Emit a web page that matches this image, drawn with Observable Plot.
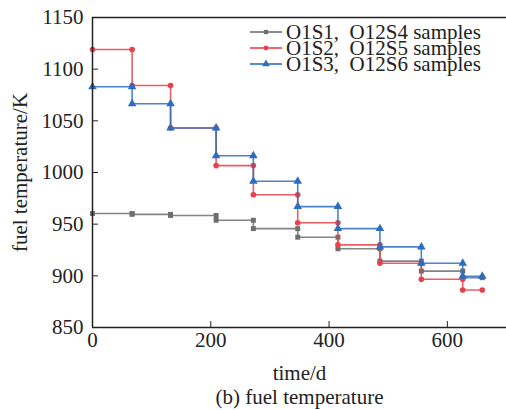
<!DOCTYPE html>
<html><head><meta charset="utf-8">
<script src="https://cdn.jsdelivr.net/npm/d3@7"></script>
<script src="https://cdn.jsdelivr.net/npm/@observablehq/plot@0.6"></script>
<style>
body{margin:0;background:#fff;}
#wrap{position:relative;width:506px;height:410px;}
#legend{position:absolute;left:0;top:0;}
</style></head><body><div id="wrap"></div>
<script>
// step boundaries (days)
const times = [0, 67, 132, 209, 272, 347, 415, 486, 556, 626, 659];
// fuel temperature (K) in each interval
const grayVals = [960.3, 959.5, 958.4, 953.8, 945.7, 937.4, 926.2, 914.2, 904.6, 898.2];
const redVals  = [1119, 1084.2, 1043, 1006.7, 978.4, 951.3, 930, 912.2, 896.7, 886.3];
const blueVals = [1083, 1066.5, 1043.1, 1016.2, 991.5, 967, 945.7, 928, 912.2, 899.6];
const seriesNames = ["O1S1,\u00a0\u00a0O12S4 samples", "O1S2,\u00a0\u00a0O12S5 samples", "O1S3,\u00a0\u00a0O12S6 samples"];
const seriesColors = ["#6e6e6e", "#e8414a", "#2d6dbf"];
const seriesSymbols = ["square", "circle", "triangle"];
const xTicks = [0, 200, 400, 600];
const yTicks = [850, 900, 950, 1000, 1050, 1100, 1150];

function stepRows(vals, name) {
  const rows = [];
  vals.forEach((v, k) => {
    rows.push({t: times[k], v, name});
    rows.push({t: times[k + 1], v, name});
  });
  return rows;
}
const allVals = [grayVals, redVals, blueVals];
const rowsBySeries = allVals.map((vals, i) => stepRows(vals, seriesNames[i]));

const font = "Liberation Serif";
const fs = 21;
const seriesMarks = rowsBySeries.flatMap((rows, i) => [
  Plot.line(rows, {x: "t", y: "v", stroke: seriesColors[i], strokeWidth: 1.6, strokeOpacity: 0.85}),
  Plot.dot(rows, {x: "t", y: "v", fill: seriesColors[i], symbol: seriesSymbols[i], r: i === 2 ? 3.2 : 2.8})
]);

const plot = Plot.plot({
  width: 506, height: 410,
  marginTop: 17, marginLeft: 92, marginRight: 0, marginBottom: 83,
  style: {fontFamily: font, fontSize: fs + "px", color: "#222", background: "#fff"},
  x: {domain: [0, 700]},
  y: {domain: [850, 1150]},
  marks: [
    ...seriesMarks,
    Plot.ruleY([1150], {stroke: "#222", strokeWidth: 1.5}),
    Plot.ruleY([850], {stroke: "#222", strokeWidth: 1.5}),
    Plot.ruleX([0], {stroke: "#222", strokeWidth: 1.5}),
    Plot.axisX({ticks: xTicks, tickSize: -6, tickPadding: 11, label: null, tickFormat: d => String(d), stroke: "#222", fontFamily: font, fontSize: fs}),
    Plot.axisY({ticks: yTicks, tickSize: -6, tickPadding: 15, label: null, tickFormat: d => String(d), stroke: "#222", fontFamily: font, fontSize: fs}),
    Plot.text(["time/d"], {frameAnchor: "bottom", dy: 46, textAnchor: "middle", lineAnchor: "middle", text: d => d, fontSize: fs, fontFamily: font, fill: "#222"}),
    Plot.text(["(b) fuel temperature"], {frameAnchor: "bottom", dy: 70, textAnchor: "middle", lineAnchor: "middle", text: d => d, fontSize: fs, fontFamily: font, fill: "#222"}),
    Plot.text(["fuel temperature/K"], {frameAnchor: "left", dx: -72, rotate: -90, textAnchor: "middle", lineAnchor: "middle", text: d => d, fontSize: fs, fontFamily: font, fill: "#222"})
  ]
});
document.getElementById("wrap").appendChild(plot);

// legend overlay
const lg = d3.select("#wrap").append("svg").attr("id", "legend")
  .attr("width", 506).attr("height", 100);
const sym = {square: d3.symbolSquare, circle: d3.symbolCircle, triangle: d3.symbolTriangle};
seriesNames.forEach((name, i) => {
  const y = 32 + i * 16;
  lg.append("line").attr("x1", 250).attr("x2", 282).attr("y1", y).attr("y2", y)
    .attr("stroke", seriesColors[i]).attr("stroke-width", 1.6);
  lg.append("path").attr("transform", `translate(266,${y})`)
    .attr("d", d3.symbol(sym[seriesSymbols[i]], i === 2 ? 26 : 18)())
    .attr("fill", seriesColors[i]);
  lg.append("text").attr("x", 286).attr("y", y).attr("dy", "0.35em")
    .style("font-family", font).style("font-size", fs + "px").attr("fill", "#222").text(name);
});
</script></body></html>
